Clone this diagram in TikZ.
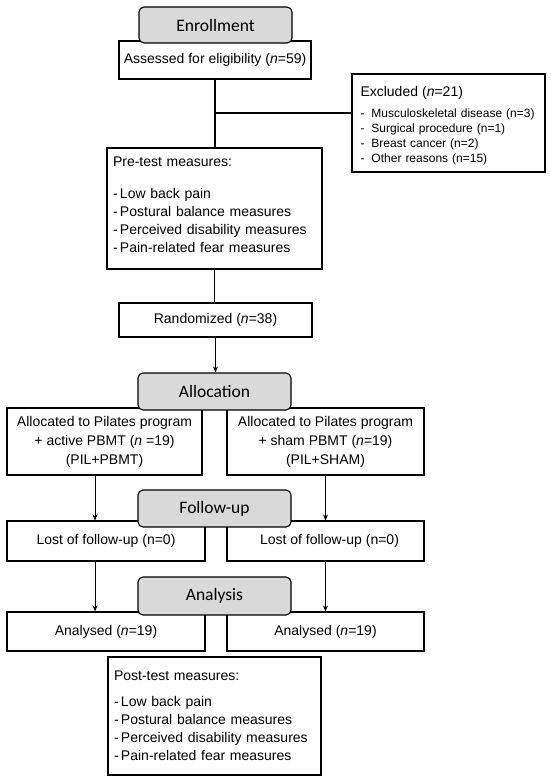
\documentclass[tikz,border=0pt]{standalone}
\usepackage{fontspec}
\setmainfont{Liberation Sans}
\newfontfamily\calibri{Carlito}
\usetikzlibrary{arrows.meta}
\definecolor{gris}{HTML}{D9D9D9}

\begin{document}
\begin{tikzpicture}[x=1pt, y=-1pt, line width=1.1pt,
  boite/.style={draw, inner sep=0pt, align=center, font=\fontsize{14}{19}\selectfont},
  liste/.style={draw, inner xsep=6pt, inner ysep=0pt, align=left, font=\fontsize{14}{18}\selectfont},
  etape/.style={draw, fill=gris, rounded corners=5pt, inner sep=0pt, minimum width=153pt,
    minimum height=37pt, font=\calibri\fontsize{17.5}{20}\selectfont},
  fleche/.style={-{Stealth[length=6pt, width=5pt]}, line width=0.9pt}]
\useasboundingbox (0,0) rectangle (550,780);
%
% Boites :
\node[boite, minimum width=192pt, minimum height=38pt] (eligible) at (215,60) {Assessed for eligibility (\textit{n}=59)};
\node[liste, text width=176pt, inner xsep=8.5pt, minimum height=98pt,
  font=\fontsize{12}{15}\selectfont] (exclus) at (448.5,123)
  {{\fontsize{14}{18}\selectfont\rule{0pt}{15.5pt}Excluded (\textit{n}=21)}\\[6pt]
   -\hspace{7pt}Musculoskeletal disease (n=3)\\
   -\hspace{7pt}Surgical procedure (n=1)\\
   -\hspace{7pt}Breast cancer (n=2)\\
   -\hspace{7pt}Other reasons (n=15)};
\node[liste, text width=203pt, minimum height=121pt] (pretest) at (214.5,208.5)
  {Pre-test measures:\\[14pt]-\,Low back pain\\-\,Postural balance measures\\
   -\,Perceived disability measures\\-\,Pain-related fear measures\rule[-8pt]{0pt}{8pt}};
\node[boite, minimum width=193pt, minimum height=34pt] (randomise) at (215.5,320) {Randomized (\textit{n}=38)};
\node[boite, minimum width=195pt, minimum height=67pt] (allocG) at (104.5,441.5)
  {Allocated to Pilates program\\+ active PBMT (\textit{n} =19)\\(PIL+PBMT)};
\node[boite, minimum width=197pt, minimum height=67pt] (allocD) at (325.5,441.5)
  {Allocated to Pilates program\\+ sham PBMT (\textit{n}=19)\\(PIL+SHAM)};
\node[boite, minimum width=198pt, minimum height=40pt] (perduG) at (106,541) {Lost of follow-up (n=0)};
\node[boite, minimum width=197pt, minimum height=40pt] (perduD) at (325.5,541) {\hspace{8pt}Lost of follow-up (n=0)};
\node[boite, minimum width=198pt, minimum height=39pt] (analyseG) at (106,631.5) {Analysed (\textit{n}=19)};
\node[boite, minimum width=197pt, minimum height=39pt] (analyseD) at (325.5,631.5) {Analysed (\textit{n}=19)};
\node[liste, text width=201pt, minimum height=118pt] (posttest) at (214.5,716)
  {Post-test measures:\\[8pt]-\,Low back pain\\-\,Postural balance measures\\
   -\,Perceived disability measures\\-\,Pain-related fear measures};
%
% Etapes :
\node[etape, minimum height=36pt] (inscription) at (215.5,25) {Enrollment};
\node[etape] (allocation) at (214.5,391.5) {Allocation};
\node[etape] (suivi) at (214.5,508.5) {Follow-up};
\node[etape, minimum height=38pt] (analyse) at (214.5,596) {Analysis};
%
% Liaisons :
\draw (eligible.south) -- (eligible.south |- pretest.north);
\coordinate (embranchement) at (215,113);
\draw (embranchement) -- (embranchement -| exclus.west);
\draw (pretest.south) -- (pretest.south |- randomise.north);
\draw[fleche] (randomise.south) -- (randomise.south |- allocation.north);
\draw[fleche] ([xshift=-9.5pt]allocG.south) -- ([xshift=-9.5pt]allocG.south |- perduG.north);
\draw[fleche] (allocD.south) -- (allocD.south |- perduD.north);
\draw[fleche] ([xshift=-11pt]perduG.south) -- ([xshift=-11pt]perduG.south |- analyseG.north);
\draw[fleche] (perduD.south) -- (perduD.south |- analyseD.north);
\end{tikzpicture}
\end{document}
